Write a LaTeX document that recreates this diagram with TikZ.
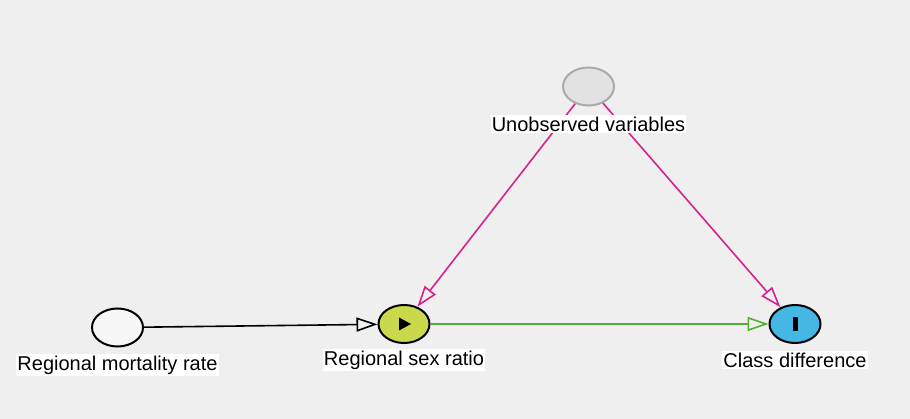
\documentclass[tikz,border=0pt]{standalone}
\usepackage{fontspec}
\setmainfont{Liberation Sans}
\usetikzlibrary{arrows.meta,shapes.geometric}
\definecolor{bgc}{HTML}{EFEFEF}
\definecolor{magentaE}{HTML}{D6228C}
\definecolor{greenE}{HTML}{52B030}
\definecolor{exposure}{HTML}{C9D94B}
\definecolor{outcome}{HTML}{44B7E4}
\definecolor{latentfill}{HTML}{E2E2E2}
\definecolor{latentdraw}{HTML}{AAAAAA}
\begin{document}
\begin{tikzpicture}[x=1pt,y=-1pt,
  var/.style={ellipse, draw=black, line width=2pt, minimum width=51pt, minimum height=38pt, inner sep=0pt},
  lbl/.style={fill=white, inner xsep=1pt, inner ysep=2pt, font=\fontsize{20}{23}\selectfont, text=black},
  edge/.style={line width=1.6pt, -{Triangle[open, length=21pt, width=14pt, line width=1.6pt]}}
]
\fill[bgc] (0,0) rectangle (910,419);
\useasboundingbox (0,0) rectangle (910,419);
\node[var, fill=white!97!black] (mort) at (117.5,327.5) {};
\node[var, fill=exposure] (sex) at (404,324) {};
\node[var, fill=outcome] (cls) at (795,324) {};
\node[var, fill=latentfill, draw=latentdraw] (unob) at (588.5,86.5) {};
% icons
\fill[black] (sex.center) ++(-5,-6.5) -- ++(12,6.5) -- ++(-12,6.5) -- cycle;
\fill[black] (cls.center) ++(-2.5,-7) rectangle ++(5,14);
% edges
\draw[edge, black] (mort) -- (sex);
\draw[edge, greenE] (sex) -- (cls);
\draw[edge, magentaE] (unob) -- (sex);
\draw[edge, magentaE] (unob) -- (cls);
% labels
\node[lbl] (lmort) at (117.5,365) {Regional mortality rate};
\node[lbl] (lsex) at (404,360) {Regional sex ratio};
\node[lbl] (lcls) at (795,360) {Class difference};
\node[lbl] (lunob) at (588.5,124) {Unobserved variables};
\end{tikzpicture}
\end{document}
